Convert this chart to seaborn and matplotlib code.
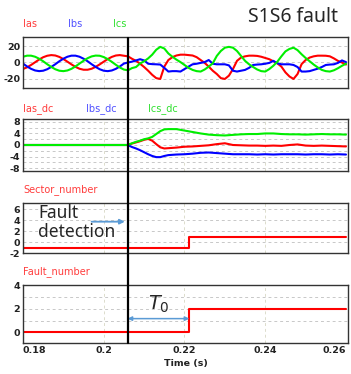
import pandas as pd
import seaborn as sns
import matplotlib.pyplot as plt
import matplotlib.transforms as mtransforms
from matplotlib.lines import Line2D

# time axis for the phase currents (s)
t_ac = [0.180, 0.181, 0.182, 0.183, 0.184, 0.185, 0.186, 0.187, 0.188, 0.189,
        0.190, 0.191, 0.192, 0.193, 0.194, 0.195, 0.196, 0.197, 0.198, 0.199,
        0.200, 0.201, 0.202, 0.203, 0.204, 0.205, 0.206, 0.207, 0.208, 0.209,
        0.210, 0.211, 0.212, 0.213, 0.214, 0.215, 0.216, 0.217, 0.218, 0.219,
        0.220, 0.221, 0.222, 0.223, 0.224, 0.225, 0.226, 0.227, 0.228, 0.229,
        0.230, 0.231, 0.232, 0.233, 0.234, 0.235, 0.236, 0.237, 0.238, 0.239,
        0.240, 0.241, 0.242, 0.243, 0.244, 0.245, 0.246, 0.247, 0.248, 0.249,
        0.250, 0.251, 0.252, 0.253, 0.254, 0.255, 0.256, 0.257, 0.258, 0.259,
        0.260]

ias = [-7.9, -5.9, -3.0, 0.3, 3.6, 6.4, 8.2, 9.0, 8.5, 6.8,
       4.2, 1.0, -2.3, -5.3, -7.6, -8.8, -8.8, -7.6, -5.3, -2.3,
       1.0, 4.2, 6.8, 8.5, 9.0, 8.2, 7.5, 4.5, 2.0, -1.5,
       -5.5, -10, -15, -19, -20, -5, 3, 6.5, 8.5, 9.5,
       9.5, 9, 8.5, 6.5, 3, -0.5, -5, -10, -14, -19,
       -20, -16, -8, 2, 6, 7.5, 8.3, 8.3, 8, 7,
       5.5, 4, 1.5, -1, -5, -12, -17, -20, -14, -2,
       3, 6, 7.5, 8.3, 8.3, 8.2, 7.5, 5, 2, 0,
       -2.5]

ibs = [-1.3, -4.8, -7.7, -9.7, -10.5, -10.0, -8.2, -5.4, -2.1, 1.5,
       4.6, 7.0, 8.3, 8.3, 7.0, 4.6, 1.5, -2.1, -5.4, -8.2,
       -10.0, -10.5, -9.7, -7.7, -4.8, -1.3, 0, 1, 2.5, 4,
       2.5, -1.5, -2, -2.2, -2.5, -6.5, -11, -10.5, -10.5, -11,
       -8, -5, -2.2, -1.5, -0.5, 0.5, 3, -1.5, -2.2, -2.2,
       -2.2, -3.5, -10, -11, -10, -9, -6.5, -3, -2.5, -2.2,
       -1.5, -0.5, 2, -1, -2.2, -2.2, -2.2, -3, -5.5, -11,
       -11, -10.5, -9, -7.5, -5.5, -3, -2.5, -2.2, -0.5, 2.5,
       0.5]

ics = [7.0, 8.3, 8.3, 7.0, 4.6, 1.5, -2.1, -5.4, -8.2, -10.0,
       -10.5, -9.7, -7.7, -4.8, -1.3, 2.1, 5.2, 7.4, 8.4, 8.2,
       6.6, 4.1, 0.8, -2.8, -6.1, -8.6, -9.5, -6.8, -5.5, -1.2,
       1.5, 5, 9.5, 15.5, 19, 17, 11, 7, 3.5, 0.5,
       -3, -6.5, -9, -10.5, -11, -8.5, -5, -1, 8, 14,
       18, 19, 18, 14, 8, 2, -2.2, -5.5, -8.5, -10.5,
       -11, -8, -4, 1, 7.5, 13.5, 16.5, 18, 15, 10,
       5.5, 1.5, -2.5, -6, -9, -10.5, -11, -9.5, -7, -4,
       -1.5]

# time axis for the dc components (s)
t_dc = [0.180, 0.185, 0.190, 0.195, 0.200, 0.2059, 0.207, 0.208, 0.209, 0.210,
        0.211, 0.212, 0.213, 0.214, 0.215, 0.216, 0.218, 0.220, 0.222, 0.224,
        0.226, 0.228, 0.230, 0.232, 0.234, 0.236, 0.238, 0.240, 0.242, 0.244,
        0.246, 0.248, 0.250, 0.252, 0.254, 0.256, 0.258, 0.260]

ias_dc = [0, 0, 0, 0, 0, 0, 0.5, 0.9, 1.3, 1.8,
          2.1, 1.5, 0.3, -0.8, -1.2, -1.1, -0.9, -0.6, -0.5, -0.3,
          -0.1, 0.3, 0.6, 0.0, -0.1, -0.2, -0.2, -0.3, -0.2, -0.3,
          0.0, 0.2, -0.2, -0.3, -0.2, -0.3, -0.4, -0.5]
ibs_dc = [0, 0, 0, 0, 0, 0, -0.7, -1.2, -1.8, -2.5,
          -3.2, -3.8, -4.2, -4.2, -3.8, -3.5, -3.3, -3.2, -3.0, -2.7,
          -2.6, -2.8, -3.0, -3.2, -3.2, -3.2, -3.3, -3.2, -3.3, -3.2,
          -3.2, -3.2, -3.3, -3.2, -3.2, -3.3, -3.2, -3.3]
ics_dc = [0, 0, 0, 0, 0, 0, 0.6, 1.1, 1.5, 2.0,
          2.3, 2.8, 3.8, 4.8, 5.4, 5.5, 5.5, 5.0, 4.5, 4.0,
          3.6, 3.4, 3.3, 3.5, 3.7, 3.8, 3.8, 4.0, 4.0, 3.8,
          3.7, 3.7, 3.6, 3.7, 3.8, 3.7, 3.7, 3.6]

# step signals
t_step = [0.180, 0.2212, 0.260]
sector_number = [-1, 1, 1]
fault_number = [0, 2, 2]

t_fault = 0.2059   # fault detection instant
t_reconf = 0.2212  # fault identified

RED, BLUE, GREEN = '#ff0000', '#0000ff', '#00ee00'

sns.set_style("white")
plt.rcParams['font.family'] = ['DejaVu Sans']

fig = plt.figure(figsize=(3.51, 3.74), dpi=100)
L, W = 0.0655, 0.926
ax1 = fig.add_axes([L, 0.7647, W, 0.1364])
ax2 = fig.add_axes([L, 0.5428, W, 0.1390])
ax3 = fig.add_axes([L, 0.3235, W, 0.1337])
ax4 = fig.add_axes([L, 0.0829, W, 0.1550])

ac = pd.DataFrame({'t': t_ac * 3, 'val': ias + ibs + ics,
                   'sig': ['Ias'] * len(t_ac) + ['Ibs'] * len(t_ac) + ['Ics'] * len(t_ac)})
dc = pd.DataFrame({'t': t_dc * 3, 'val': ias_dc + ibs_dc + ics_dc,
                   'sig': ['Ias_dc'] * len(t_dc) + ['Ibs_dc'] * len(t_dc) + ['Ics_dc'] * len(t_dc)})

sns.lineplot(data=ac, x='t', y='val', hue='sig', ax=ax1, legend=False, linewidth=1.5,
             palette={'Ias': RED, 'Ibs': BLUE, 'Ics': GREEN})
sns.lineplot(data=dc, x='t', y='val', hue='sig', ax=ax2, legend=False, linewidth=1.5,
             palette={'Ias_dc': RED, 'Ibs_dc': BLUE, 'Ics_dc': GREEN})
ax3.plot(t_step, sector_number, drawstyle='steps-post', color=RED, lw=1.5)
ax4.plot(t_step, fault_number, drawstyle='steps-post', color=RED, lw=1.5)

setup = [
    (ax1, (-31, 31), [20, 0, -20], [20, 0, -20]),
    (ax2, (-9, 9), [8, 4, 0, -4, -8], [8, 6, 4, 2, 0, -2, -4, -6, -8]),
    (ax3, (-2, 7.1), [6, 4, 2, 0, -2], [6, 4, 2, 0]),
    (ax4, (-0.9, 4.0), [4, 2, 0], [3, 2, 1]),
]
for ax, ylim, yt, grid in setup:
    ax.set_xlim(0.18, 0.2605)
    ax.set_ylim(*ylim)
    ax.set_yticks(yt)
    ax.set_yticklabels([str(v) for v in yt])
    ax.set_xticks([0.18, 0.2, 0.22, 0.24, 0.26])
    ax.set_xlabel('')
    ax.set_ylabel('')
    for g in grid:
        ax.axhline(g, color='#c8c8c8', lw=0.7, ls=(0, (3, 3)), zorder=0)
    for g in [0.2, 0.22, 0.24]:
        ax.axvline(g, color='#dcdccc', lw=0.7, ls=(0, (3, 3)), zorder=0)
    ax.tick_params(length=0, labelsize=6.8, pad=2, colors='#222222')
    for lab in ax.get_yticklabels():
        lab.set_fontweight('bold')
    for sp in ax.spines.values():
        sp.set_color('#333333')
        sp.set_linewidth(1.0)
    if ax is not ax4:
        ax.set_xticklabels([])

ax4.set_xticklabels(['0.18', '0.2', '0.22', '0.24', '0.26'])
xlabs = ax4.get_xticklabels()
for lab in xlabs:
    lab.set_fontweight('bold')
xlabs[0].set_horizontalalignment('left')
xlabs[-1].set_horizontalalignment('right')
ax4.set_xlabel('Time (s)', fontsize=6.8, fontweight='bold', color='#222222', labelpad=3)

# signal names above each panel
fig.text(0.066, 0.936, 'Ias', color='#ff3c3c', fontsize=7, va='center')
fig.text(0.194, 0.936, 'Ibs', color='#5050ff', fontsize=7, va='center')
fig.text(0.322, 0.936, 'Ics', color='#30e030', fontsize=7, va='center')
fig.text(0.066, 0.711, 'Ias_dc', color='#ff3c3c', fontsize=7, va='center')
fig.text(0.245, 0.711, 'Ibs_dc', color='#5050ff', fontsize=7, va='center')
fig.text(0.422, 0.711, 'Ics_dc', color='#30e030', fontsize=7, va='center')
fig.text(0.066, 0.492, 'Sector_number', color='#ff3c3c', fontsize=7, va='center')
fig.text(0.066, 0.273, 'Fault_number', color='#ff3c3c', fontsize=7, va='center')
fig.text(0.963, 0.955, 'S1S6 fault', fontsize=14, ha='right', va='center', family='Noto Sans')

# fault detection marker across all panels
trans = mtransforms.blended_transform_factory(ax4.transData, fig.transFigure)
fig.add_artist(Line2D([t_fault, t_fault], [0.0829, 0.898], transform=trans,
                      color='black', lw=1.6))

ax3.text(0.1838, 3.5, 'Fault\ndetection', fontsize=12.5, family='Noto Sans',
         va='center', ha='left', linespacing=1.05)
ax3.annotate('', xy=(t_fault, 3.7), xytext=(0.1963, 3.7),
             arrowprops=dict(arrowstyle='-|>', color='#5b9bd5', lw=1.3, mutation_scale=7))
ax4.annotate('', xy=(t_fault, 1.16), xytext=(t_reconf, 1.16),
             arrowprops=dict(arrowstyle='<|-|>', color='#5b9bd5', lw=1.1, mutation_scale=6,
                             shrinkA=0, shrinkB=0))
ax4.text(0.2136, 2.35, r'$T_0$', fontsize=14, ha='center', va='center')

fig.savefig('out.png', dpi=100)
